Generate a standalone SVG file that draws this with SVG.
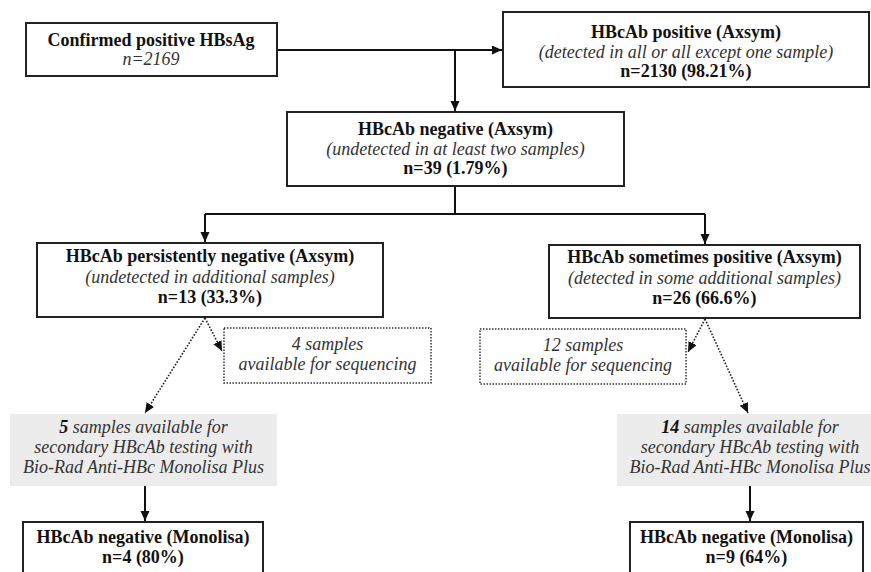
<svg xmlns="http://www.w3.org/2000/svg" width="871" height="572" viewBox="0 0 871 572">
<defs>
<marker id="ah" markerUnits="userSpaceOnUse" markerWidth="11" markerHeight="10" refX="10" refY="4.5" orient="auto">
<path d="M0,0 L10,4.5 L0,9 z" fill="#111"/>
</marker>
<style>
.box{fill:#fff;stroke:#222;stroke-width:2}
.dbox{fill:#fff;stroke:#333;stroke-width:1.5;stroke-dasharray:1.5 1.5}
.gbox{fill:#ececec;stroke:none}
text{font-family:"Liberation Serif","Times New Roman",serif;font-size:18px;fill:#111;text-anchor:middle}
.b{font-weight:bold}
.i{font-style:italic;fill:#333}
.bi{font-weight:bold;font-style:italic;fill:#111}
.ln{fill:none;stroke:#111;stroke-width:2}
.dl{fill:none;stroke:#222;stroke-width:1.6;stroke-dasharray:1.6 1.6}
</style>
</defs>
<rect width="871" height="572" fill="#fff"/>
<g id="connectors">
<path class="ln" d="M277,50 H502" marker-end="url(#ah)"/>
<path class="ln" d="M455,50 V111" marker-end="url(#ah)"/>
<path class="ln" d="M455,186 V214 M205,214 H705"/>
<path class="ln" d="M205,214 V242" marker-end="url(#ah)"/>
<path class="ln" d="M705,214 V244" marker-end="url(#ah)"/>
<path class="dl" d="M205,318 L222,351" marker-end="url(#ah)"/>
<path class="dl" d="M205,318 L145,413" marker-end="url(#ah)"/>
<path class="dl" d="M705,319 L688,352" marker-end="url(#ah)"/>
<path class="dl" d="M705,319 L748,413" marker-end="url(#ah)"/>
<path class="ln" d="M145,486 V521" marker-end="url(#ah)"/>
<path class="ln" d="M750,486 V521" marker-end="url(#ah)"/>
</g>
<g id="n1">
<rect class="box" x="26" y="23" width="251" height="53"/>
<text class="b" x="151" y="46">Confirmed positive HBsAg</text>
<text class="i" x="151" y="65">n=2169</text>
</g>
<g id="n2">
<rect class="box" x="503" y="12" width="366" height="75"/>
<text class="b" x="686" y="38">HBcAb positive (Axsym)</text>
<text class="i" x="686" y="58">(detected in all or all except one sample)</text>
<text class="b" x="686" y="77">n=2130 (98.21%)</text>
</g>
<g id="n3">
<rect class="box" x="287" y="112" width="337" height="74"/>
<text class="b" x="455.5" y="135">HBcAb negative (Axsym)</text>
<text class="i" x="455.5" y="155">(undetected in at least two samples)</text>
<text class="b" x="455.5" y="174">n=39 (1.79%)</text>
</g>
<g id="n4">
<rect class="box" x="37" y="243" width="346" height="74"/>
<text class="b" x="210" y="262">HBcAb persistently negative (Axsym)</text>
<text class="i" x="210" y="283">(undetected in additional samples)</text>
<text class="b" x="210" y="303">n=13 (33.3%)</text>
</g>
<g id="n5">
<rect class="box" x="549" y="245" width="311" height="73"/>
<text class="b" x="704.5" y="263">HBcAb sometimes positive (Axsym)</text>
<text class="i" x="704.5" y="284">(detected in some additional samples)</text>
<text class="b" x="704.5" y="304">n=26 (66.6%)</text>
</g>
<g id="n6">
<rect class="dbox" x="224" y="328" width="207" height="55"/>
<text class="i" x="327.5" y="350">4 samples</text>
<text class="i" x="327.5" y="370">available for sequencing</text>
</g>
<g id="n7">
<rect class="dbox" x="480" y="329" width="206" height="55"/>
<text class="i" x="583" y="351">12 samples</text>
<text class="i" x="583" y="371">available for sequencing</text>
</g>
<g id="n8">
<rect class="gbox" x="10" y="414" width="267" height="72"/>
<text class="i" x="143.5" y="433"><tspan class="bi">5</tspan> samples available for</text>
<text class="i" x="143.5" y="453">secondary HBcAb testing with</text>
<text class="i" x="143.5" y="473">Bio-Rad Anti-HBc Monolisa Plus</text>
</g>
<g id="n9">
<rect class="gbox" x="617" y="414" width="267" height="72"/>
<text class="i" x="750" y="433"><tspan class="bi">14</tspan> samples available for</text>
<text class="i" x="750" y="453">secondary HBcAb testing with</text>
<text class="i" x="750" y="473">Bio-Rad Anti-HBc Monolisa Plus</text>
</g>
<g id="n10">
<rect class="box" x="23" y="522" width="240" height="62"/>
<text class="b" x="143" y="543">HBcAb negative (Monolisa)</text>
<text class="b" x="143" y="563">n=4 (80%)</text>
</g>
<g id="n11">
<rect class="box" x="630" y="522" width="233" height="62"/>
<text class="b" x="746.5" y="543">HBcAb negative (Monolisa)</text>
<text class="b" x="746.5" y="563">n=9 (64%)</text>
</g>
</svg>
